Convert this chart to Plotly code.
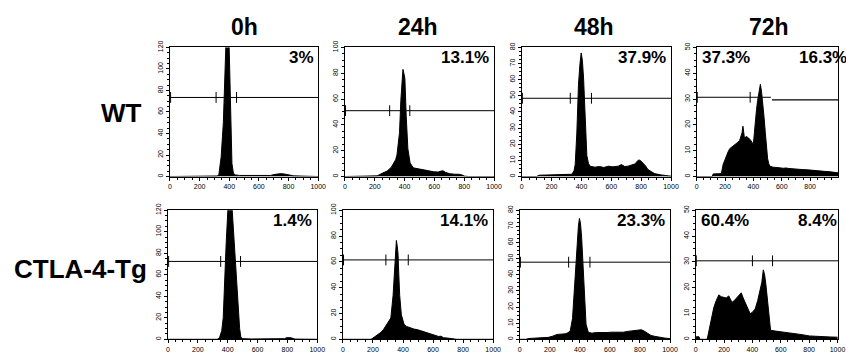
import plotly.graph_objects as go

W, H = 846, 353

# ---------------- data ----------------
time_labels = ["0h", "24h", "48h", "72h"]
row_labels = ["WT", "CTLA-4-Tg"]

# histogram outlines (DNA content vs. cell count)
wt0_x = [0, 300, 320, 330, 345, 360, 370, 378, 386, 394, 402, 410, 418, 428, 440, 470, 520, 600, 680, 700, 720, 740, 760, 780, 800, 815, 830, 870, 950, 1000]
wt0_y = [0, 0, 0.5, 2, 18, 50, 90, 130, 160, 150, 110, 50, 12, 3, 1.5, 1, 1, 0.8, 1, 1.8, 2.4, 2.6, 2.6, 2.3, 2, 1.2, 0.6, 0.4, 0.2, 0]

wt24_x = [0, 200, 216, 250, 283, 310, 327, 340, 349, 358, 366, 375, 383, 389, 395, 402, 411, 422, 437, 459, 490, 525, 560, 592, 625, 645, 658, 675, 702, 735, 768, 790, 801, 830, 1000]
wt24_y = [0, 0, 0.5, 2.5, 4.2, 7, 10.4, 13, 16.7, 24, 34, 59, 78, 83, 80, 76, 46.5, 21.6, 10.4, 6.7, 6, 5.5, 4.5, 3.7, 3.5, 4.2, 4.4, 3.2, 2.2, 1.8, 1.7, 1, 0.3, 0, 0]

wt48_x = [0, 100, 115, 200, 270, 300, 336, 350, 358, 369, 380, 390, 398, 406, 414, 425, 436, 447, 458, 490, 520, 550, 580, 610, 646, 668, 690, 712, 735, 757, 770, 783, 797, 812, 830, 845, 865, 889, 934, 978, 1000]
wt48_y = [0, 0, 0.8, 1, 1.2, 1, 1.4, 3.5, 7.4, 27, 57, 70, 76.6, 72, 61, 37, 13, 8, 6.4, 5.8, 6.2, 5.6, 6.4, 6, 6.4, 7.4, 6.2, 6.4, 7.2, 7.8, 9, 10.3, 9.8, 8.4, 6.5, 4.4, 3, 1.8, 1, 0.4, 0.2]

wt72_x = [0, 110, 116, 150, 174, 186, 198, 209, 221, 233, 250, 267, 280, 291, 303, 314, 320, 326, 331, 337, 348, 360, 372, 384, 392, 400, 407, 414, 422, 430, 440, 449, 457, 465, 475, 484, 492, 500, 508, 516, 540, 560, 581, 610, 630, 651, 680, 710, 744, 780, 810, 837, 870, 900, 930, 960, 995, 1000]
wt72_y = [0, 0, 1, 1.1, 1.1, 4.6, 6.5, 8.3, 9.5, 10.8, 11.5, 12, 12.5, 13.3, 14, 15.8, 17, 19.5, 16, 14.8, 15.5, 15.2, 14.5, 13.9, 13, 12.7, 17, 22, 26, 29.5, 33, 35.7, 33, 29.5, 23, 17, 11, 7, 5, 4, 3.6, 3.4, 3.4, 3.2, 3.3, 3.1, 2.9, 2.8, 2.7, 2.6, 2.4, 2.4, 2.1, 2, 1.9, 1.7, 1.5, 1.4]

tg0_x = [0, 330, 345, 360, 370, 377, 390, 403, 415, 428, 443, 455, 465, 472, 480, 488, 500, 560, 650, 760, 780, 795, 815, 835, 850, 1000]
tg0_y = [0, 0, 1.5, 8, 20, 50, 90, 125, 155, 125, 90, 60, 45, 25, 10, 2, 0.6, 0.3, 0.3, 0.3, 0.6, 1.5, 1.6, 1, 0.2, 0]

tg24_x = [0, 187, 209, 230, 253, 270, 286, 303, 319, 334, 345, 351, 356, 362, 367, 372, 378, 389, 398, 407, 423, 440, 456, 473, 495, 516, 538, 560, 582, 604, 620, 637, 653, 670, 692, 714, 736, 758, 1000]
tg24_y = [0, 0, 1.7, 3.5, 5.4, 7.6, 10.4, 13, 16.5, 34, 61, 72, 76.6, 72, 66, 50, 34, 19, 14, 11.6, 10, 9.1, 8.4, 7.9, 7.5, 6.7, 5.8, 4.9, 3.9, 3, 2.5, 2.2, 2.4, 1.2, 1, 0.7, 0.3, 0, 0]

tg48_x = [0, 40, 61, 120, 190, 215, 248, 275, 303, 320, 336, 351, 364, 379, 390, 397, 404, 412, 420, 428, 441, 456, 480, 510, 544, 580, 610, 632, 660, 690, 719, 745, 774, 790, 807, 823, 840, 856, 873, 895, 917, 940, 961, 1000]
tg48_y = [0, 0, 0.5, 0.8, 1.2, 1.8, 3, 3.2, 3.4, 4, 5.3, 13, 33, 56.7, 70, 74.9, 72, 62.6, 48, 33, 9.3, 4.3, 3.8, 4.2, 4, 4.2, 4.4, 4.3, 4.6, 4.4, 4.9, 5.2, 5.7, 5.8, 5.9, 5.4, 4.3, 3.3, 2.4, 1.9, 1.4, 1.1, 0.8, 0.4]

tg72_x = [0, 5, 23, 30, 81, 95, 105, 116, 128, 145, 163, 180, 198, 215, 233, 245, 256, 272, 291, 306, 321, 335, 349, 366, 384, 400, 419, 437, 454, 466, 477, 486, 495, 504, 512, 520, 528, 560, 590, 616, 660, 709, 750, 802, 850, 895, 950, 1000]
tg72_y = [0, 1.0, 1.0, 0, 0, 3.5, 7.3, 10, 12.4, 15, 17.2, 16.5, 16.2, 16, 16.8, 15.5, 14.3, 15, 16.2, 17, 18, 16, 14.3, 12, 9.9, 10.5, 11.7, 15, 18.7, 22, 26.9, 25, 21.2, 17, 12.4, 8, 3.5, 3.2, 3, 2.9, 2.6, 2.3, 1.8, 1.3, 1.1, 1, 0.9, 0.8]

hist_x = [wt0_x, wt24_x, wt48_x, wt72_x, tg0_x, tg24_x, tg48_x, tg72_x]
hist_y = [wt0_y, wt24_y, wt48_y, wt72_y, tg0_y, tg24_y, tg48_y, tg72_y]

y_max = [120, 100, 80, 50, 120, 100, 80, 50]
y_dtick = [20, 20, 10, 10, 20, 20, 10, 10]
x_max = 1000

# marker gates: level, left tick, right tick
gate_level = [73.5, 51, 48.5, 30.7, 72.4, 61.5, 47.8, 30.4]
gate_lo = [311, 300, 325, 377, 353, 286, 325, 400]
gate_hi = [449, 435, 467, 523, 486, 435, 467, 542]
# 72h WT: second marker line slightly lower after the gate
gate2_level = 29.7

# percentages
pct_right = ["3%", "13.1%", "37.9%", "16.3%", "1.4%", "14.1%", "23.3%", "8.4%"]
pct_left = [None, None, None, "37.3%", None, None, None, "60.4%"]

# ---------------- layout geometry (pixels) ----------------
col_px = [[(170, 320), (347, 498), (526, 677), (703, 846)],
          [(168, 319), (345, 497), (524, 676), (702, 846)]]
row_px = [(42, 176), (211, 345)]
x_end_last = [(846 - 703) / 143.5 * 1000, (846 - 702) / 143.5 * 1000]
pct_right_last_px = [806, 805]

FONT = "Liberation Sans, Arial, sans-serif"
PCT_SIZE = 17

fig = go.Figure()
layout = dict(
    width=W, height=H, margin=dict(l=0, r=0, t=0, b=0),
    paper_bgcolor="white", plot_bgcolor="white", showlegend=False,
    font=dict(family=FONT, color="black"),
)
shapes, annotations = [], []

for i in range(8):
    r, c = divmod(i, 4)
    n = i + 1
    xa = "xaxis" if n == 1 else f"xaxis{n}"
    ya = "yaxis" if n == 1 else f"yaxis{n}"
    xr = "x" if n == 1 else f"x{n}"
    yr = "y" if n == 1 else f"y{n}"
    x0, x1 = col_px[r][c]
    top, bot = row_px[r]
    xmax = x_end_last[r] if c == 3 else x_max

    fig.add_trace(go.Scatter(
        x=hist_x[i], y=hist_y[i], xaxis=xr, yaxis=yr, mode="lines",
        line=dict(color="black", width=1), fill="tozeroy", fillcolor="black",
        hoverinfo="skip"))

    layout[xa] = dict(
        domain=[x0 / W, x1 / W], anchor=yr, range=[0, xmax],
        showgrid=False, zeroline=False, showline=True, linecolor="black", linewidth=1,
        mirror=True, ticks="outside", ticklen=3, tickwidth=1, tickcolor="black",
        tickvals=[0, 200, 400, 600, 800, 1000], ticktext=["0", "200", "400", "600", "800", "1000"],
        tickfont=dict(size=7, family=FONT, color="black"),
        minor=dict(dtick=50, ticklen=2, tickcolor="black", ticks="outside"),
        fixedrange=True)
    layout[ya] = dict(
        domain=[1 - bot / H, 1 - top / H], anchor=xr, range=[0, y_max[i]],
        showgrid=False, zeroline=False, showline=True, linecolor="black", linewidth=1,
        mirror=True, ticks="outside", ticklen=3, tickwidth=1, tickcolor="black",
        dtick=y_dtick[i], tickangle=-90,
        tickfont=dict(size=7, family=FONT, color="black"),
        minor=dict(dtick=y_dtick[i] / 4, ticklen=2, tickcolor="black", ticks="outside"),
        fixedrange=True)

    # marker gate lines
    lvl = gate_level[i]
    tick_h = y_max[i] * 0.042
    if i == 3:
        shapes.append(dict(type="line", xref=xr, yref=yr, x0=0, x1=gate_hi[i], y0=lvl, y1=lvl,
                           line=dict(color="black", width=1)))
        shapes.append(dict(type="line", xref=xr, yref=yr, x0=gate_hi[i] + 8, x1=xmax, y0=gate2_level, y1=gate2_level,
                           line=dict(color="black", width=1.3)))
        gate_ticks = (gate_lo[i],)
    else:
        shapes.append(dict(type="line", xref=xr, yref=yr, x0=0, x1=xmax, y0=lvl, y1=lvl,
                           line=dict(color="black", width=1)))
        gate_ticks = (gate_lo[i], gate_hi[i])
    for gx in gate_ticks:
        shapes.append(dict(type="line", xref=xr, yref=yr, x0=gx, x1=gx, y0=lvl - tick_h, y1=lvl + tick_h,
                           line=dict(color="black", width=1)))
    shapes.append(dict(type="line", xref=xr, yref=yr, x0=4, x1=4, y0=lvl - tick_h, y1=lvl + tick_h,
                       line=dict(color="black", width=1)))

    # percentages
    if c == 3:
        annotations.append(dict(text=f"<b>{pct_right[i]}</b>", xref="paper", yref=f"{yr} domain",
                                x=pct_right_last_px[r] / W, y=1.0, xanchor="left", yanchor="top",
                                showarrow=False, borderpad=0,
                                font=dict(size=PCT_SIZE, family=FONT, color="black")))
    else:
        annotations.append(dict(text=f"<b>{pct_right[i]}</b>", xref=f"{xr} domain", yref=f"{yr} domain",
                                x=0.975, y=1.0, xanchor="right", yanchor="top", showarrow=False,
                                borderpad=0, font=dict(size=PCT_SIZE, family=FONT, color="black")))
    if pct_left[i]:
        annotations.append(dict(text=f"<b>{pct_left[i]}</b>", xref="paper", yref=f"{yr} domain",
                                x=(x0 + 4) / W, y=1.0, xanchor="left", yanchor="top", showarrow=False,
                                borderpad=0, font=dict(size=PCT_SIZE, family=FONT, color="black")))

# column titles
title_cx = [245, 421, 599, 776]
for c, t in enumerate(time_labels):
    annotations.append(dict(text=f"<b>{t}</b>", xref="paper", yref="paper",
                            x=title_cx[c] / W, y=1 - 21 / H, xanchor="center", yanchor="middle",
                            showarrow=False, font=dict(size=23, family=FONT, color="black")))

# row labels
row_label_right = [144, 149]
row_label_cy = [110, 272]
for r, t in enumerate(row_labels):
    annotations.append(dict(text=f"<b>{t}</b>", xref="paper", yref="paper",
                            x=row_label_right[r] / W, y=1 - row_label_cy[r] / H,
                            xanchor="right", yanchor="middle", showarrow=False,
                            font=dict(size=26, family=FONT, color="black")))

layout["shapes"] = shapes
layout["annotations"] = annotations
fig.update_layout(**layout)
fig.write_html("out.html", config={"displayModeBar": False},
               post_script="document.body.style.margin='0';document.body.style.overflow='hidden';")
